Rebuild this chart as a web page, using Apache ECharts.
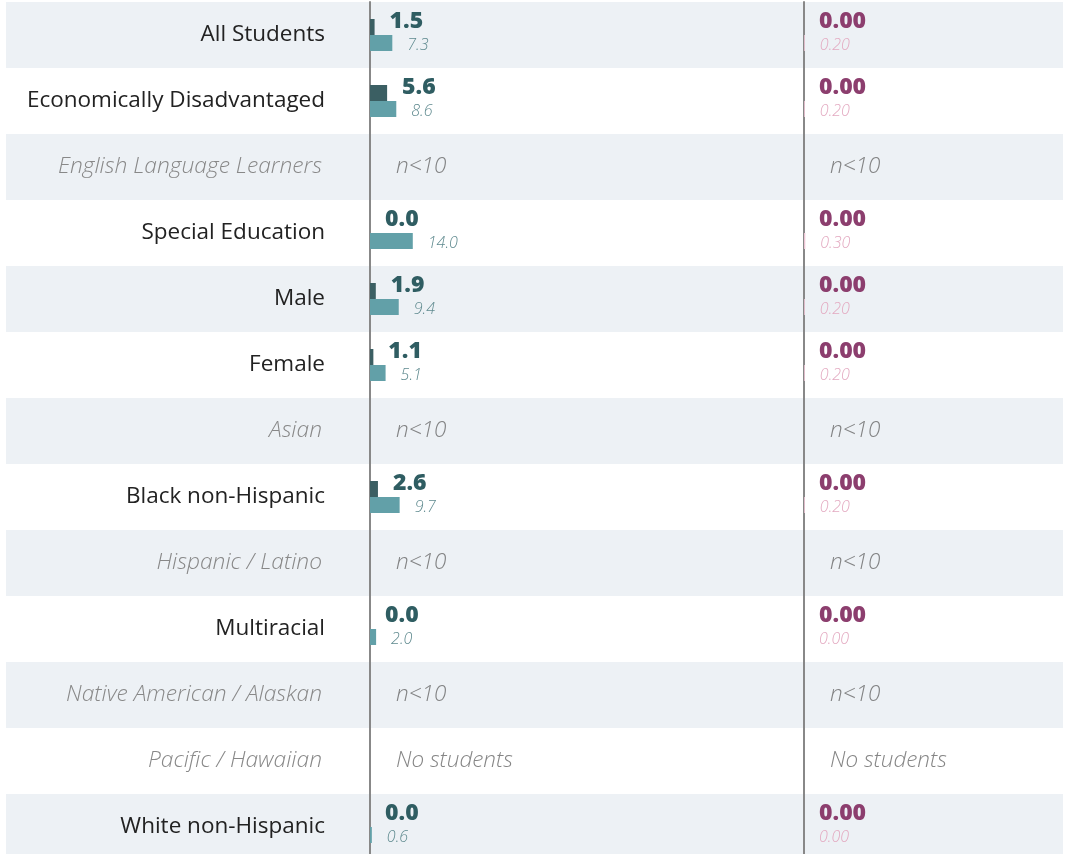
<!DOCTYPE html>
<html>
<head>
<meta charset="utf-8">
<script src="https://cdn.jsdelivr.net/npm/echarts@6/dist/echarts.min.js"></script>
<style>
  html, body { margin: 0; padding: 0; background: #fff; overflow: hidden; }
  #chart { width: 1071px; height: 860px; }
</style>
</head>
<body>
<div id="chart"></div>
<script>
const categories = ['All Students', 'Economically Disadvantaged', 'English Language Learners',
  'Special Education', 'Male', 'Female', 'Asian', 'Black non-Hispanic', 'Hispanic / Latino',
  'Multiracial', 'Native American / Alaskan', 'Pacific / Hawaiian', 'White non-Hispanic'];
// left panel: school value and comparison value
const schoolVals = [1.5, 5.6, null, 0.0, 1.9, 1.1, null, 2.6, null, 0.0, null, null, 0.0];
const compareVals = [7.3, 8.6, null, 14.0, 9.4, 5.1, null, 9.7, null, 2.0, null, null, 0.6];
// right panel
const rightSchool = [0, 0, null, 0, 0, 0, null, 0, null, 0, null, null, 0];
const rightCompare = [0.20, 0.20, null, 0.30, 0.20, 0.20, null, 0.20, null, 0.00, null, null, 0.00];
// rows without data
const notes = ['', '', 'n<10', '', '', '', 'n<10', '', 'n<10', '', 'n<10', 'No students', ''];

const chart = echarts.init(document.getElementById('chart'));
const FONT = '"Open Sans", "Noto Sans", sans-serif';
const noteZero = notes.map(n => (n ? 0 : null));

function boldLabel(color, decimals) {
  return {
    show: true, position: 'right', distance: 15, offset: [0, -6],
    fontFamily: FONT, fontSize: 23, fontWeight: 800, color: color,
    formatter: p => (p.value == null ? '' : Number(p.value).toFixed(decimals))
  };
}
function italicLabel(color, decimals) {
  return {
    show: true, position: 'right', distance: 15, offset: [0, 2],
    fontFamily: FONT, fontSize: 16, fontStyle: 'italic', fontWeight: 300, color: color,
    formatter: p => (p.value == null ? '' : Number(p.value).toFixed(decimals))
  };
}
function noteSeries(idx) {
  return {
    type: 'scatter', xAxisIndex: idx, yAxisIndex: idx, symbolSize: 0, silent: true,
    data: noteZero,
    label: {
      show: true, position: 'right', distance: 26,
      fontFamily: FONT, fontSize: 22.5, fontStyle: 'italic', fontWeight: 300, color: '#666',
      formatter: p => notes[p.dataIndex]
    }
  };
}

const option = {
  animation: false,
  grid: [
    { left: 6, right: 8, top: 2, bottom: 0 },   // row bands
    { left: 370, width: 434, top: 2, bottom: 0 },
    { left: 804, right: 8, top: 2, bottom: 0 }
  ],
  xAxis: [
    { gridIndex: 0, type: 'value', min: 0, max: 1, show: false },
    { gridIndex: 1, type: 'value', min: 0, max: 142, show: false },
    { gridIndex: 2, type: 'value', min: 0, max: 60, show: false }
  ],
  yAxis: [
    {
      gridIndex: 0, type: 'category', data: categories, inverse: true,
      axisLine: { show: false }, axisTick: { show: false }, axisLabel: { show: false },
      splitArea: { show: true, areaStyle: { color: ['#edf1f5', '#ffffff'] } }
    },
    {
      gridIndex: 1, type: 'category', data: categories, inverse: true,
      axisLine: { show: true, lineStyle: { color: '#888', width: 2 } },
      axisTick: { show: false },
      axisLabel: {
        margin: 45,
        formatter: (v, i) => (notes[i] ? '{m|' + v + '}' : '{n|' + v + '}'),
        rich: {
          n: { fontFamily: FONT, fontSize: 22.5, fontWeight: 400, color: '#222' },
          m: { fontFamily: FONT, fontSize: 22.8, fontStyle: 'italic', fontWeight: 300, color: '#888', padding: [0, 3, 0, 0] }
        }
      }
    },
    {
      gridIndex: 2, type: 'category', data: categories, inverse: true,
      axisLine: { show: true, lineStyle: { color: '#888', width: 2 } },
      axisTick: { show: false }, axisLabel: { show: false }
    }
  ],
  series: [
    {
      name: 'School', type: 'bar', xAxisIndex: 1, yAxisIndex: 1,
      barWidth: 16, barGap: '0%', data: schoolVals,
      itemStyle: { color: '#3b5f63' },
      label: boldLabel('#2f5d62', 1)
    },
    {
      name: 'Comparison', type: 'bar', xAxisIndex: 1, yAxisIndex: 1,
      barWidth: 16, barGap: '0%', data: compareVals,
      itemStyle: { color: '#62a0a8' },
      label: italicLabel('#5f8a8f', 1)
    },
    {
      name: 'School R', type: 'bar', xAxisIndex: 2, yAxisIndex: 2,
      barWidth: 16, barGap: '0%', data: rightSchool,
      itemStyle: { color: '#8c3e6e' },
      label: boldLabel('#8c3e6e', 2)
    },
    {
      name: 'Comparison R', type: 'bar', xAxisIndex: 2, yAxisIndex: 2,
      barWidth: 16, barGap: '0%', data: rightCompare,
      itemStyle: { color: '#ecc3d3' },
      label: italicLabel('#e3a9c0', 2)
    },
    noteSeries(1),
    noteSeries(2)
  ]
};

chart.setOption(option);
</script>
</body>
</html>
